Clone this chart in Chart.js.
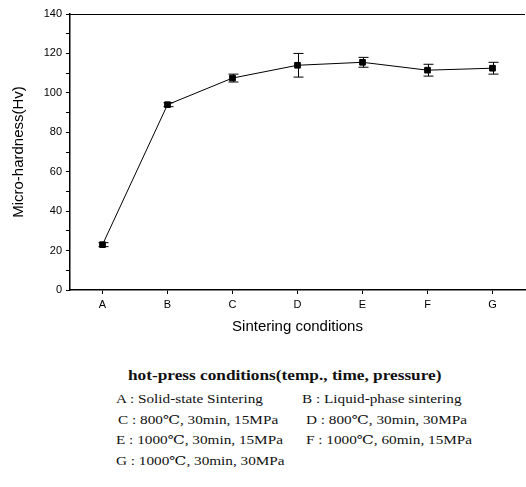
<!DOCTYPE html>
<html>
<head>
<meta charset="utf-8">
<script src="https://cdn.jsdelivr.net/npm/chart.js@4/dist/chart.umd.min.js"></script>
<style>
  body { margin: 0; background: #fff; width: 526px; height: 487px; overflow: hidden; position: relative; }
  #wrap { position: absolute; left: 0; top: 0; width: 530px; height: 340px; }
  .note { position: absolute; font-family: "Liberation Serif", "DejaVu Serif", serif; font-size: 12px; color: #111; white-space: nowrap; transform: scaleX(1.27); transform-origin: left center; }
  .head { font-weight: bold; font-size: 14.5px; transform: scaleX(1.19); }
</style>
</head>
<body>
<div id="wrap"><canvas id="chart"></canvas></div>
<div class="note head" style="left:128px; top:367px;">hot-press conditions(temp., time, pressure)</div>
<div class="note" style="left:116px; top:392px;">A : Solid-state Sintering</div>
<div class="note" style="left:302px; top:392px;">B : Liquid-phase sintering</div>
<div class="note" style="left:118px; top:413px;">C : 800℃, 30min, 15MPa</div>
<div class="note" style="left:306px; top:413px;">D : 800℃, 30min, 30MPa</div>
<div class="note" style="left:116px; top:433px;">E : 1000℃, 30min, 15MPa</div>
<div class="note" style="left:306px; top:433px;">F : 1000℃, 60min, 15MPa</div>
<div class="note" style="left:116px; top:454px;">G : 1000℃, 30min, 30MPa</div>
<script>
var conditions = ["A", "B", "C", "D", "E", "F", "G"];
var hardness = [23, 94, 107.5, 114, 115.5, 111.5, 112.5];
var hardnessErr = [1, 1, 2, 6, 2.5, 3, 3];
var yTicks = [0, 20, 40, 60, 80, 100, 120, 140];

// error bars + top frame line
var errorBars = {
    id: 'errorBars',
    afterDatasetsDraw: function (chart) {
        var c = chart.ctx, xs = chart.scales.x, ys = chart.scales.y, a = chart.chartArea;
        c.save();
        c.strokeStyle = '#000';
        c.lineWidth = 1;
        c.beginPath();
        c.moveTo(a.left, a.top + 0.5);
        c.lineTo(a.right, a.top + 0.5);
        c.stroke();
        hardness.forEach(function (v, i) {
            var x = Math.round(xs.getPixelForValue(i)) + 0.5;
            var yt = ys.getPixelForValue(v + hardnessErr[i]);
            var yb = ys.getPixelForValue(v - hardnessErr[i]);
            c.beginPath();
            c.moveTo(x, yt); c.lineTo(x, yb);
            c.moveTo(x - 5, yt); c.lineTo(x + 5, yt);
            c.moveTo(x - 5, yb); c.lineTo(x + 5, yb);
            c.stroke();
        });
        c.restore();
    }
};

var ctx = document.getElementById("chart");
var chart = new Chart(ctx, {
    type: 'line',
    data: {
        labels: conditions,
        datasets: [{
            label: "Micro-hardness",
            data: hardness,
            borderColor: '#000',
            borderWidth: 1,
            backgroundColor: '#000',
            pointStyle: 'rect',
            pointRadius: 4,
            pointBackgroundColor: '#000',
            tension: 0
        }]
    },
    options: {
        responsive: true,
        maintainAspectRatio: false,
        animation: false,
        layout: { padding: { left: 0, top: 14, right: 0, bottom: 0 } },
        plugins: { legend: { display: false }, tooltip: { enabled: false } },
        scales: {
            x: {
                offset: true,
                grid: { display: true, drawOnChartArea: false, offset: false, tickLength: 4, color: '#000' },
                border: { color: '#000', width: 1.5 },
                ticks: { color: '#000', font: { family: 'Liberation Sans', size: 11 }, padding: 4 },
                title: { display: true, text: 'Sintering conditions', color: '#000', font: { family: 'Liberation Sans', size: 15 }, padding: { top: 2 } },
                afterFit: function (s) { s.height = 50; }
            },
            y: {
                min: 0, max: 140,
                grid: { display: true, drawOnChartArea: false, tickLength: 4, color: '#000' },
                border: { color: '#000', width: 1.5 },
                ticks: {
                    stepSize: 10, autoSkip: false, color: '#000',
                    font: { family: 'Liberation Sans', size: 11 }, padding: 4,
                    callback: function (v) { return yTicks.indexOf(v) >= 0 ? v : ''; }
                },
                title: { display: true, text: 'Micro-hardness(Hv)', color: '#000', font: { family: 'Liberation Sans', size: 15 }, padding: { top: 10, bottom: 2 } },
                afterFit: function (s) { s.width = 70; }
            }
        }
    },
    plugins: [errorBars]
});
</script>
</body>
</html>
